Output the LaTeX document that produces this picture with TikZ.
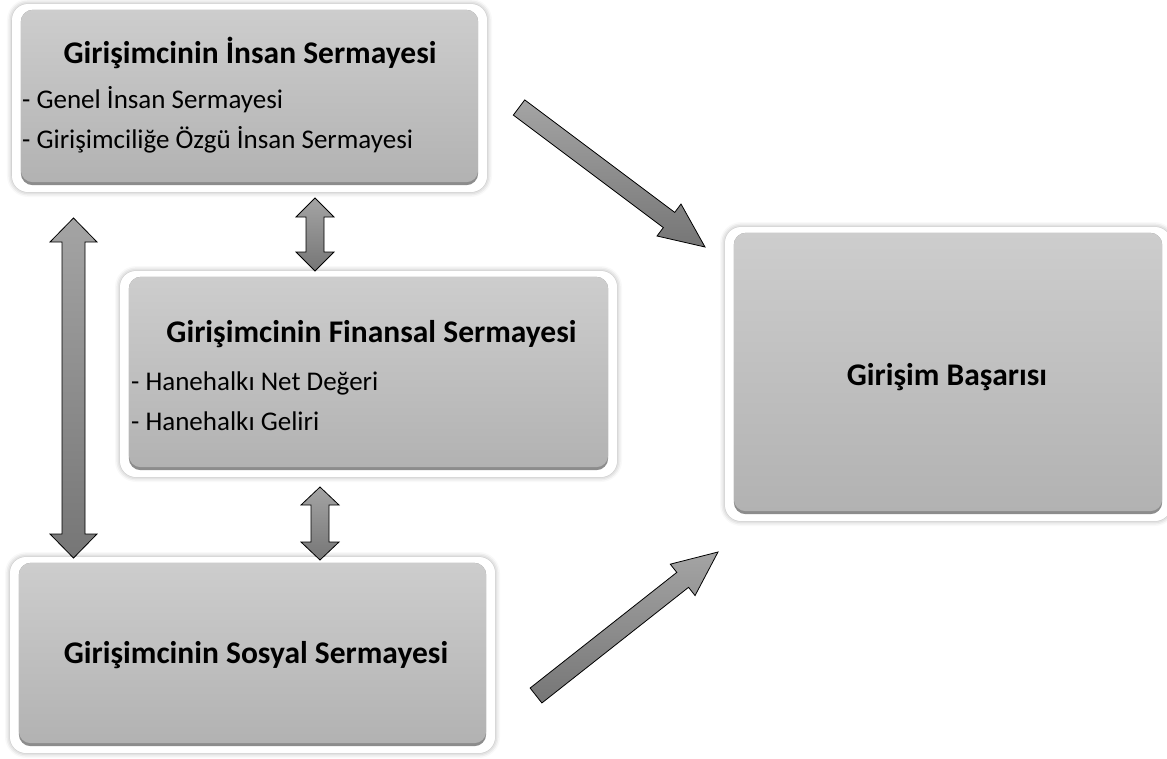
\documentclass[tikz,border=0pt]{standalone}
\usepackage{fontspec}
\setmainfont{Carlito}
\usetikzlibrary{calc,shadows.blur}
\definecolor{boxtop}{HTML}{CDCDCD}
\definecolor{boxbot}{HTML}{B2B2B2}
\definecolor{boxrim}{HTML}{8C8C8C}
\definecolor{arrtop}{HTML}{A4A4A4}
\definecolor{arrbot}{HTML}{767676}
\tikzset{
  wbox/.style={fill=white, rounded corners=16pt, inner sep=0pt,
    blur shadow={shadow xshift=0pt, shadow yshift=0pt, shadow blur radius=5pt, shadow opacity=35}},
  rimfill/.style={fill=boxrim, rounded corners=12pt},
  grayfill/.style={top color=boxtop, bottom color=boxbot, rounded corners=12pt},
  blockarrow/.style={draw=black, line width=0.8pt, line join=miter, top color=arrtop, bottom color=arrbot},
  titletext/.style={font=\fontsize{31.5}{37}\selectfont\bfseries, inner sep=0pt},
  itemtext/.style={font=\fontsize{27}{32}\selectfont, inner sep=0pt, anchor=base west}
}
\newcommand\innergray[1]{%
  \fill[rimfill] ([xshift=9pt,yshift=-6pt]#1.north west) rectangle ([xshift=-9pt,yshift=7pt]#1.south east);
  \shade[grayfill] ([xshift=9pt,yshift=-6pt]#1.north west) rectangle ([xshift=-9pt,yshift=10pt]#1.south east);}
% #1 start, #2 end, #3 shaft half width, #4 head half width, #5 head length
\newcommand\singlearrow[5]{%
  \coordinate (hb) at ($(#2)!#5!(#1)$);
  \draw[blockarrow] ($(#1)!#3!90:(#2)$) -- ($(hb)!#3!-90:(#1)$) -- ($(hb)!#4!-90:(#1)$) -- (#2)
    -- ($(hb)!#4!90:(#1)$) -- ($(hb)!#3!90:(#1)$) -- ($(#1)!#3!-90:(#2)$) -- cycle;}
\newcommand\doublearrow[5]{%
  \coordinate (ha) at ($(#1)!#5!(#2)$);
  \coordinate (hb) at ($(#2)!#5!(#1)$);
  \draw[blockarrow] (#1) -- ($(ha)!#4!90:(#2)$) -- ($(ha)!#3!90:(#2)$) -- ($(hb)!#3!-90:(#1)$)
    -- ($(hb)!#4!-90:(#1)$) -- (#2) -- ($(hb)!#4!90:(#1)$) -- ($(hb)!#3!90:(#1)$)
    -- ($(ha)!#3!-90:(#2)$) -- ($(ha)!#4!-90:(#2)$) -- cycle;}
\begin{document}
\begin{tikzpicture}[x=1pt,y=-1pt]
\useasboundingbox (0,0) rectangle (1167,758);
% boxes
\node[wbox, minimum width=475pt, minimum height=188pt] (insan) at (249.5,98) {};
\innergray{insan}
\node[wbox, minimum width=497pt, minimum height=206pt] (finans) at (368.5,374) {};
\innergray{finans}
\node[wbox, minimum width=485pt, minimum height=196pt] (sosyal) at (252.5,655) {};
\innergray{sosyal}
\node[wbox, minimum width=446pt, minimum height=294pt] (basari) at (948,374) {};
\innergray{basari}
% texts
\node[titletext, anchor=base] (t1) at (250,63) {Girişimcinin İnsan Sermayesi};
\node[itemtext] (i11) at (22,108) {- Genel İnsan Sermayesi};
\node[itemtext] (i12) at (22,148) {- Girişimciliğe Özgü İnsan Sermayesi};
\node[titletext, anchor=base] (t2) at (371.5,342) {Girişimcinin Finansal Sermayesi};
\node[itemtext] (i21) at (131,390) {- Hanehalkı Net Değeri};
\node[itemtext] (i22) at (131,430) {- Hanehalkı Geliri};
\node[titletext, anchor=base] (t3) at (256,663) {Girişimcinin Sosyal Sermayesi};
\node[titletext, anchor=base] (t4) at (947,385) {Girişim Başarısı};
% arrow end points
\coordinate (a1s) at (519,107.5);
\coordinate (a1e) at (705,247);
\coordinate (a2s) at (536,695.5);
\coordinate (a2e) at (718,552);
\coordinate (d1s) at (73.5,218);
\coordinate (d1e) at (73.5,558);
\coordinate (d2s) at (315,198);
\coordinate (d2e) at (315,271);
\coordinate (d3s) at (320,487);
\coordinate (d3e) at (320,560);
% arrows
\singlearrow{a1s}{a1e}{9.5pt}{20pt}{45pt}
\singlearrow{a2s}{a2e}{9.5pt}{20pt}{45pt}
\doublearrow{d1s}{d1e}{11.5pt}{23.5pt}{24pt}
\doublearrow{d2s}{d2e}{9pt}{19pt}{19pt}
\doublearrow{d3s}{d3e}{9pt}{19pt}{18pt}
\end{tikzpicture}
\end{document}
